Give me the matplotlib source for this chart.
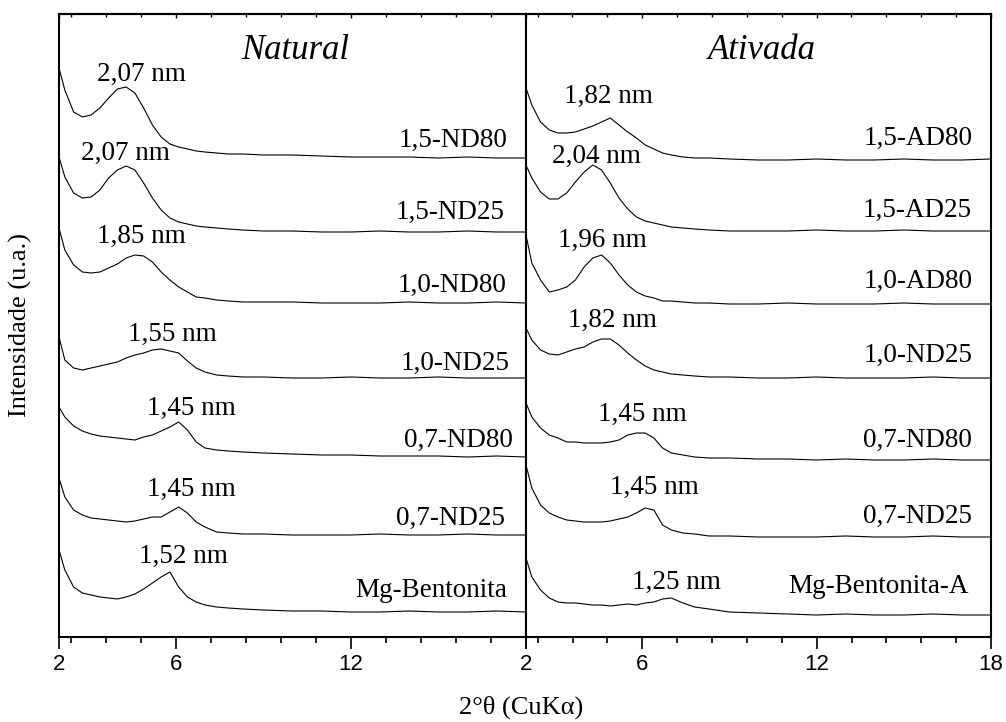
import numpy as np
import matplotlib.pyplot as plt
from matplotlib.ticker import MultipleLocator

# 2theta grid (degrees) shared by all patterns
two_theta = [2.0, 2.2, 2.5, 2.8, 3.1, 3.4, 3.7, 4.0, 4.3, 4.6, 4.9, 5.2, 5.5, 5.8, 6.1,
             6.4, 6.7, 7.0, 7.4, 7.8, 8.3, 9.0, 10, 11, 12, 13, 14, 15, 16, 17, 18]

# Natural samples: intensity above each pattern's own baseline (u.a.)
nat_names = ["1,5-ND80", "1,5-ND25", "1,0-ND80", "1,0-ND25", "0,7-ND80", "0,7-ND25", "Mg-Bentonita"]
nat_offset = [479, 405, 334, 259, 180, 102, 25]
nat_15_nd80 = [90, 68, 46, 41, 43, 50, 60, 69, 71, 65, 50, 33, 21, 14, 11, 9, 7, 6, 5, 4, 4,
               3, 3, 2, 1, 1, 1, 0, 1, 0, 0]
nat_15_nd25 = [75, 55, 39, 34, 35, 42, 54, 62, 66, 62, 49, 34, 22, 14, 10, 8, 6, 5, 4, 3, 2,
               1, 1, 0, 0, 1, 0, 0, 1, 0, 0]
nat_10_nd80 = [75, 53, 38, 31, 30, 31, 35, 39, 45, 48, 47, 41, 31, 23, 16, 11, 6, 5, 3, 2, 1,
               1, 1, 0, 0, 0, 1, 0, 0, 1, 0]
nat_10_nd25 = [41, 18, 10, 8, 10, 12, 14, 16, 20, 23, 25, 28, 29, 27, 25, 17, 10, 6, 3, 2, 1,
               1, 0, 0, 1, 0, 0, 1, 0, 0, 0]
nat_07_nd80 = [50, 40, 31, 26, 23, 21, 20, 19, 18, 17, 20, 22, 26, 30, 35, 27, 15, 9, 7, 6, 5,
               4, 3, 2, 2, 1, 1, 1, 0, 1, 0]
nat_07_nd25 = [57, 38, 25, 20, 17, 16, 15, 14, 13, 14, 16, 18, 18, 23, 28, 22, 13, 8, 3, 2, 1,
               1, 0, 0, 0, 1, 0, 0, 1, 0, 0]
nat_mg = [62, 42, 25, 19, 17, 15, 14, 13, 15, 18, 23, 29, 35, 40, 25, 15, 10, 7, 5, 4, 3,
          2, 1, 1, 0, 0, 1, 0, 0, 1, 0]
nat_curves = [nat_15_nd80, nat_15_nd25, nat_10_nd80, nat_10_nd25, nat_07_nd80, nat_07_nd25, nat_mg]
nat_peaks = ["2,07 nm", "2,07 nm", "1,85 nm", "1,55 nm", "1,45 nm", "1,45 nm", "1,52 nm"]

# Activated samples
atv_names = ["1,5-AD80", "1,5-AD25", "1,0-AD80", "1,0-ND25", "0,7-ND80", "0,7-ND25", "Mg-Bentonita-A"]
atv_offset = [477, 406, 333, 259, 177, 100, 22]
atv_15_ad80 = [72, 55, 38, 30, 27, 27, 28, 31, 34, 38, 42, 35, 28, 22, 15, 11, 7, 5, 3, 2, 2,
               1, 0, 0, 1, 0, 0, 1, 0, 0, 1]
atv_15_ad25 = [66, 53, 39, 32, 32, 38, 49, 59, 66, 61, 48, 33, 22, 14, 10, 8, 6, 4, 3, 2, 1,
               0, 0, 0, 1, 0, 0, 1, 0, 0, 0]
atv_10_ad80 = [69, 41, 24, 12, 14, 17, 24, 37, 46, 49, 41, 29, 19, 12, 8, 6, 3, 3, 2, 1, 1,
               0, 0, 1, 0, 0, 0, 1, 0, 0, 0]
atv_10_nd25 = [50, 38, 28, 24, 23, 26, 29, 31, 36, 39, 39, 33, 25, 18, 12, 8, 6, 4, 3, 2, 1,
               1, 0, 0, 1, 0, 0, 0, 1, 0, 0]
atv_07_nd80 = [57, 43, 32, 25, 22, 18, 18, 17, 17, 17, 18, 20, 25, 27, 27, 22, 12, 7, 5, 3, 2,
               2, 1, 1, 0, 1, 0, 0, 1, 0, 0]
atv_07_nd25 = [72, 49, 32, 24, 20, 17, 16, 15, 15, 15, 16, 18, 20, 24, 29, 27, 12, 7, 4, 3, 1,
               1, 0, 0, 0, 1, 0, 0, 1, 0, 0]
atv_mg = [57, 38, 25, 17, 13, 12, 12, 11, 10, 10, 9, 10, 11, 10, 12, 13, 16, 17, 12, 8, 6,
          3, 2, 1, 0, 1, 0, 0, 1, 0, 0]
atv_curves = [atv_15_ad80, atv_15_ad25, atv_10_ad80, atv_10_nd25, atv_07_nd80, atv_07_nd25, atv_mg]
atv_peaks = ["1,82 nm", "2,04 nm", "1,96 nm", "1,82 nm", "1,45 nm", "1,45 nm", "1,25 nm"]

# label placement (2theta, intensity)
nat_peak_pos = [(4.81, 556), (4.29, 477), (4.81, 394), (5.87, 296), (6.55, 222), (6.55, 141), (6.28, 74)]
nat_name_pos = [(17.38, 490), (17.27, 418), (17.34, 345), (17.45, 267), (17.55, 190), (17.27, 112), (17.34, 40)]
atv_peak_pos = [(4.82, 534), (4.44, 474), (4.62, 390), (4.99, 310), (5.99, 216), (6.40, 143), (7.16, 48)]
atv_name_pos = [(17.35, 492), (17.35, 420), (17.35, 349), (17.35, 275), (17.35, 190), (17.35, 114), (17.25, 44)]

serif = "Liberation Serif"
sans = "Liberation Sans"

fig = plt.figure(figsize=(10.06, 7.22), dpi=100)
ax1 = fig.add_axes([59 / 1006, 85 / 722, 467 / 1006, 623 / 722])
ax2 = fig.add_axes([526 / 1006, 85 / 722, 465 / 1006, 623 / 722])

panels = [
    (ax1, "Natural", nat_curves, nat_offset, nat_names, nat_peaks, nat_peak_pos, nat_name_pos, ["2", "6", "12", ""]),
    (ax2, "Ativada", atv_curves, atv_offset, atv_names, atv_peaks, atv_peak_pos, atv_name_pos, ["2", "6", "12", "18"]),
]

for ax, title, curves, offsets, names, peaks, peak_pos, name_pos, xlabels in panels:
    for y, off in zip(curves, offsets):
        ax.plot(two_theta, np.array(y) + off, color="black", lw=0.8)
    for txt, (x, y) in zip(peaks, peak_pos):
        ax.text(x, y, txt, ha="center", va="baseline", fontsize=19.5, family=serif)
    for txt, (x, y) in zip(names, name_pos):
        ax.text(x, y, txt, ha="right", va="baseline", fontsize=19.5, family=serif)
    ax.text(10.1, 578, title, ha="center", va="baseline", fontsize=25, family=serif, style="italic")

    ax.set_xlim(2, 18)
    ax.set_ylim(0, 623)
    ax.set_yticks([])
    ax.set_xticks([2, 6, 12, 18])
    ax.set_xticklabels(xlabels, fontsize=16, family=sans)
    ax.xaxis.set_minor_locator(MultipleLocator(1.2))
    ax.tick_params(axis="x", which="major", direction="out", length=8.5, width=1.2, pad=4)
    ax.tick_params(axis="x", which="minor", direction="out", length=4.3, width=1.2)
    for sp in ax.spines.values():
        sp.set_linewidth(1.5)

    top = ax.secondary_xaxis("top")
    top.set_xticks([2, 6, 12, 18])
    top.set_xticklabels([])
    top.xaxis.set_minor_locator(MultipleLocator(1.2))
    top.tick_params(which="major", direction="in", length=3, width=1.0)
    top.tick_params(which="minor", direction="in", length=2, width=1.0)
    top.spines["top"].set_linewidth(1.5)

fig.text(521 / 1006, 1 - 707 / 722, "2°θ (CuKα)", ha="center", va="center", fontsize=19, family=serif)
fig.text(20 / 1006, 1 - 325 / 722, "Intensidade (u.a.)", ha="center", va="center",
         rotation=90, fontsize=19, family=serif)

plt.savefig("out.png", dpi=100)
plt.close()
